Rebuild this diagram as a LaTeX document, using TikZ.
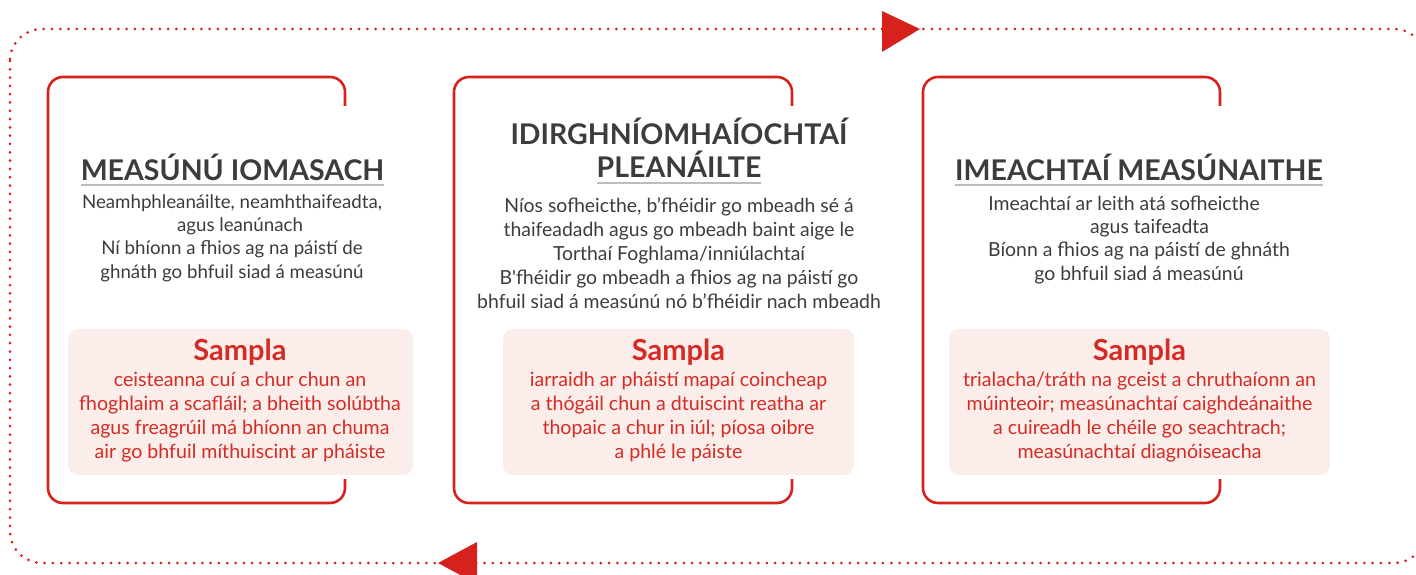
\documentclass[tikz,border=0pt]{standalone}
\usepackage{fontspec}
\setmainfont{Lato}
\usetikzlibrary{positioning}
\definecolor{framered}{HTML}{D7211D}
\definecolor{textgrey}{HTML}{3C3C3B}
\definecolor{rulegrey}{HTML}{BDBDBD}
\definecolor{samplefill}{HTML}{FBEEEA}
\definecolor{samplered}{HTML}{D52B24}

\begin{document}
\begin{tikzpicture}[x=1pt,y=-1pt,
  box_frame/.style={draw=framered,line width=2.6pt,rounded corners=15pt},
  loop_line/.style={draw=framered,line width=3pt,line cap=round,dash pattern=on 0pt off 8.3pt,rounded corners=32pt},
  loop_tip/.style={fill=framered},
  title_node/.style={font=\fontsize{28.5}{33}\selectfont\bfseries,text=textgrey,inner sep=0pt,anchor=base},
  title_rule/.style={draw=rulegrey,line width=2.5pt},
  body_node/.style={font=\fontsize{19.4}{23.3}\selectfont,text=textgrey,inner sep=0pt,align=center,anchor=base},
  sample_box/.style={fill=samplefill,rounded corners=10pt,inner sep=0pt},
  sample_head/.style={font=\fontsize{29}{30}\selectfont\bfseries,text=samplered,inner sep=0pt,anchor=base},
  sample_text/.style={font=\fontsize{19.6}{23.7}\selectfont,text=samplered,inner sep=0pt,align=center,anchor=base}]
  \useasboundingbox (0,0) rectangle (1416,575);

  % loop round the three boxes
  \draw[loop_line] (10,29) rectangle (1426,563);
  \fill[loop_tip] (882,11) -- (920,29) -- (882,52) -- cycle;
  \fill[loop_tip] (477,542) -- (438,563) -- (477,584) -- cycle;

  % open frames
  \draw[box_frame] (345,106) -- (345,77) -- (48,77) -- (48,503) -- (345,503) -- (345,479);
  \draw[box_frame] (792,106) -- (792,77) -- (454,77) -- (454,503) -- (792,503) -- (792,479);
  \draw[box_frame] (1220,106) -- (1220,77) -- (923,77) -- (923,503) -- (1220,503) -- (1220,479);

  % titles
  \node[title_node] (t1) at (232.5,180) {MEASÚNÚ IOMASACH};
  \node[title_node] (t2a) at (679,145) {IDIRGHNÍOMHAÍOCHTAÍ};
  \node[title_node] (t2) at (679,178) {PLEANÁILTE};
  \node[title_node] (t3) at (1139,180) {IMEACHTAÍ MEASÚNAITHE};
  \foreach \t in {t1,t2,t3}
    \draw[title_rule] ([yshift=-5pt]\t.base west) -- ([yshift=-5pt]\t.base east);

  % descriptions (anchored on the last line)
  \node[body_node,font=\fontsize{18.7}{23.3}\selectfont] (b1) at (232,278) {Neamhphleanáilte, neamhthaifeadta,\\ \hspace*{16pt}agus leanúnach\\ Ní bhíonn a fhios ag na páistí de\\ ghnáth go bhfuil siad á measúnú};
  \node[body_node,font=\fontsize{19.4}{24}\selectfont] (b2) at (679,308) {Níos sofheicthe, b’fhéidir go mbeadh sé á\\ thaifeadadh agus go mbeadh baint aige le\\ Torthaí Foghlama/inniúlachtaí\\ B\textquotesingle fhéidir go mbeadh a fhios ag na páistí go\\ bhfuil siad á measúnú nó b’fhéidir nach mbeadh};
  \node[body_node] (b3) at (1139,280) {Imeachtaí ar leith atá sofheicthe\hspace*{30pt}\\ \hspace*{21pt}agus taifeadta\\ Bíonn a fhios ag na páistí de ghnáth\\ go bhfuil siad á measúnú};

  % examples
  \node[sample_box,minimum width=345pt,minimum height=146pt] (s1) at (240.5,402) {};
  \node[sample_box,minimum width=351pt,minimum height=146pt] (s2) at (678.5,402) {};
  \node[sample_box,minimum width=381pt,minimum height=146pt] (s3) at (1139.5,402) {};
  \node[sample_head] (h1) at (240,360) {Sampla};
  \node[sample_head] (h2) at (678.5,360) {Sampla};
  \node[sample_head] (h3) at (1139.5,360) {Sampla};
  \node[sample_text] (e1) at (240,458) {ceisteanna cuí a chur chun an\\ fhoghlaim a scafláil; a bheith solúbtha\\ agus freagrúil má bhíonn an chuma\\ air go bhfuil míthuiscint ar pháiste};
  \node[sample_text] (e2) at (678.5,458) {iarraidh ar pháistí mapaí coincheap\\ a thógáil chun a dtuiscint reatha ar\\ thopaic a chur in iúl; píosa oibre\\ a phlé le páiste};
  \node[sample_text] (e3) at (1139.5,458) {trialacha/tráth na gceist a chruthaíonn an\\ múinteoir; measúnachtaí caighdeánaithe\\ a cuireadh le chéile go seachtrach;\\ measúnachtaí diagnóiseacha};
\end{tikzpicture}
\end{document}
